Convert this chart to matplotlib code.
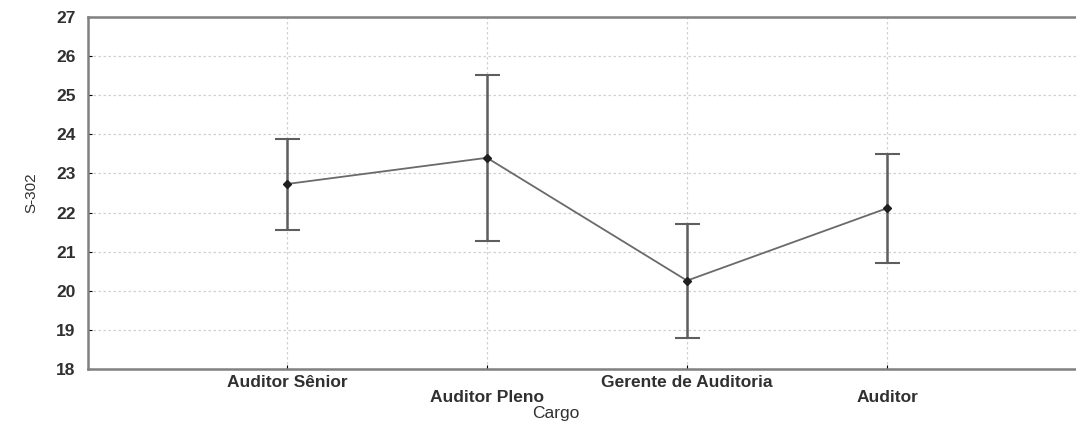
import matplotlib
matplotlib.use("Agg")
import matplotlib.pyplot as plt

plt.rcParams["font.family"] = ["Liberation Sans", "DejaVu Sans"]

categories = ["Auditor Sênior", "Auditor Pleno", "Gerente de Auditoria", "Auditor"]
means = [22.73, 23.40, 20.26, 22.11]
upper = [23.88, 25.52, 21.70, 23.50]
lower = [21.55, 21.28, 18.80, 20.72]
y_ticks = [18, 19, 20, 21, 22, 23, 24, 25, 26, 27]

x = list(range(len(categories)))
err_lo = [m - lo for m, lo in zip(means, lower)]
err_hi = [hi - m for m, hi in zip(means, upper)]

fig = plt.figure(figsize=(10.76, 4.22), dpi=100)
ax = fig.add_axes([88 / 1076, 53 / 422, 1 - 88 / 1076, 352 / 422])

# grid
for yv in y_ticks[1:-1]:
    ax.axhline(yv, color="#d0d0d0", lw=0.9, ls=(0, (2, 2)), zorder=0)
for xv in x:
    ax.axvline(xv, color="#d0d0d0", lw=0.9, ls=(0, (2, 2)), zorder=0)

ax.errorbar(x, means, yerr=[err_lo, err_hi], fmt="none", ecolor="#5e5e5e",
            elinewidth=1.8, capsize=9, capthick=1.5, zorder=2)
ax.plot(x, means, color="#6a6a6a", lw=1.3, zorder=3)
ax.plot(x, means, ls="none", marker="D", ms=4, color="#202020", zorder=4)

ax.set_xlim(-0.995, 3.945)
ax.set_ylim(18, 27)
ax.set_yticks(y_ticks)
ax.set_xticks(x)
ax.set_xticklabels(categories, fontsize=12.5, fontweight="bold", color="#303030")
for i, tick in enumerate(ax.xaxis.get_major_ticks()):
    tick.set_pad(4 if i % 2 == 0 else 15)
ax.tick_params(axis="y", labelsize=12.5, labelcolor="#303030", direction="in", length=3, pad=9)
ax.tick_params(axis="x", direction="in", length=3)
for lab in ax.get_yticklabels():
    lab.set_fontweight("bold")

for side in ["left", "bottom", "top"]:
    ax.spines[side].set_color("#808080")
    ax.spines[side].set_linewidth(1.8)
ax.spines["right"].set_visible(False)

ax.set_xlabel("Cargo", fontsize=12.5, color="#303030")
ax.xaxis.set_label_coords((556 - 88) / (1076 - 88), -(406 - 369) / 352)
ax.set_ylabel("S-302", fontsize=11, color="#303030")
ax.yaxis.set_label_coords(-(88 - 38) / (1076 - 88), 0.5)

fig.savefig("out.png", dpi=100, facecolor="white")
